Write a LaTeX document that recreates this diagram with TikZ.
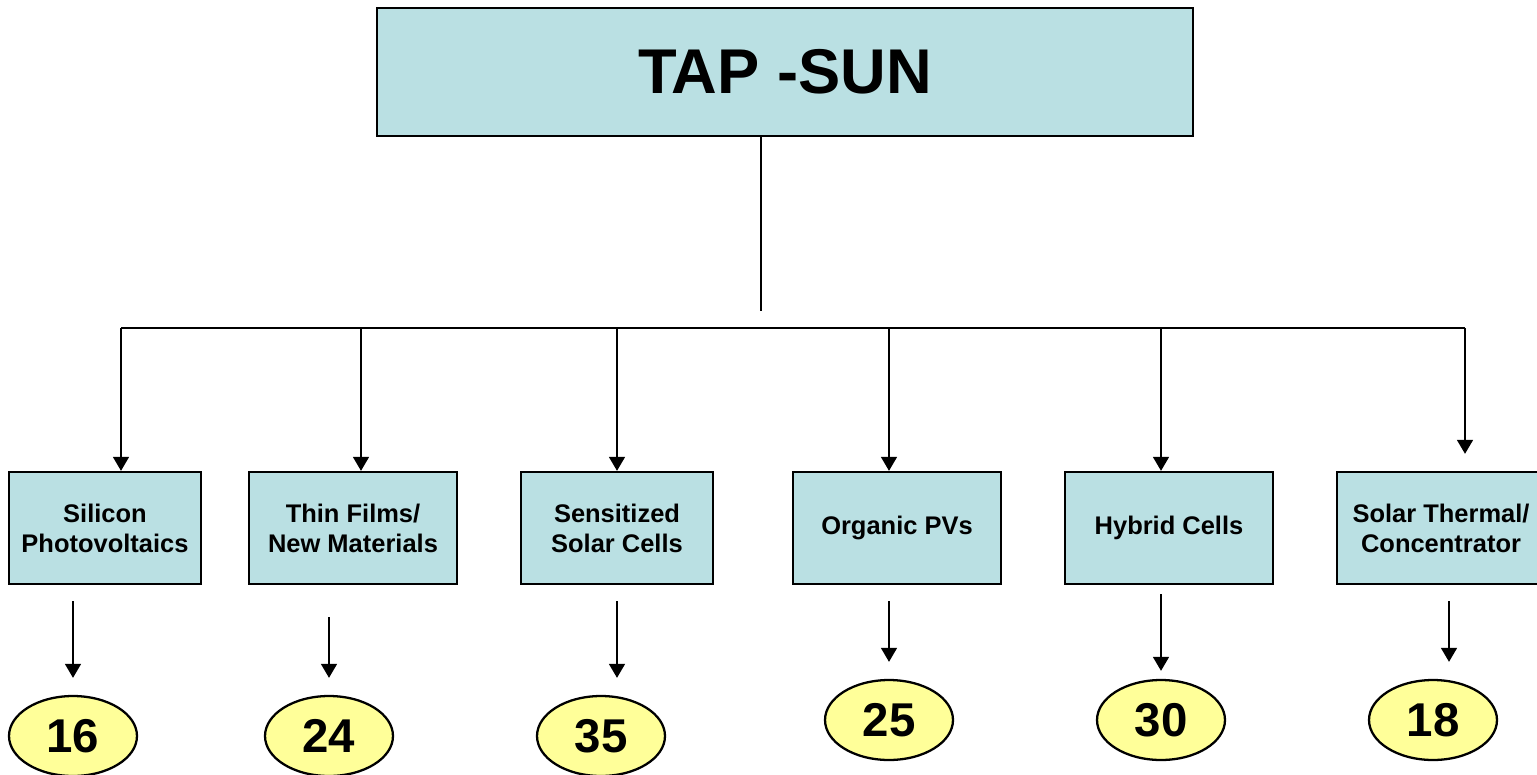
\documentclass[tikz,border=0pt]{standalone}
\usepackage{fontspec}
\setmainfont{Liberation Sans}
\usepackage{xcolor}
\usetikzlibrary{arrows.meta,positioning,shapes.geometric}

\definecolor{boxblue}{RGB}{186,224,227}
\definecolor{numyellow}{RGB}{255,255,153}

\begin{document}
\begin{tikzpicture}[
  x=0.02cm, y=-0.02cm,
  line width=1.3pt,
  head/.style={draw, fill=boxblue, minimum width=16.32cm, minimum height=2.56cm, font=\fontsize{36}{40}\selectfont\bfseries},
  area/.style={draw, fill=boxblue, minimum height=2.24cm, align=center, inner sep=0pt, font=\fontsize{14.5}{17}\selectfont\bfseries},
  count/.style={draw, ellipse, fill=numyellow, minimum width=2.56cm, minimum height=1.6cm, inner sep=0pt, font=\fontsize{27}{30}\selectfont\bfseries},
  arrow/.style={-{Triangle[width=9pt, length=8pt]}}
]
\useasboundingbox (0,0) rectangle (1537,774);

\node[head] (tap) at (785,72) {TAP -SUN};

\node[area, minimum width=3.84cm] (sil) at (105,528) {Silicon\\Photovoltaics};
\node[area, minimum width=4.16cm] (thin) at (353,528) {Thin Films/\\New Materials};
\node[area, minimum width=3.84cm] (sens) at (617,528) {Sensitized\\Solar Cells};
\node[area, minimum width=4.16cm] (org) at (897,528) {Organic PVs};
\node[area, minimum width=4.16cm] (hyb) at (1169,528) {Hybrid Cells};
\node[area, minimum width=4.16cm] (sol) at (1441,528) {Solar Thermal/\\Concentrator};

\node[count] (n16) at (73,736) {16};
\node[count] (n24) at (329,736) {24};
\node[count] (n35) at (601,736) {35};
\node[count] (n25) at (889,720) {25};
\node[count] (n30) at (1161,720) {30};
\node[count] (n18) at (1433,720) {18};

% bus from the top box
\coordinate (trunk) at (761,311);
\coordinate (b1) at (121,328);
\coordinate (b2) at (361,328);
\coordinate (b3) at (617,328);
\coordinate (b4) at (889,328);
\coordinate (b5) at (1161,328);
\coordinate (b6) at (1465,328);

\draw (tap.south -| trunk) -- (trunk);
\draw (b1) -- (b6);
\draw[arrow] (b1) -- (b1 |- sil.north);
\draw[arrow] (b2) -- (b2 |- thin.north);
\draw[arrow] (b3) -- (b3 |- sens.north);
\draw[arrow] (b4) -- (b4 |- org.north);
\draw[arrow] (b5) -- (b5 |- hyb.north);
\draw[arrow, shorten >=0.34cm] (b6) -- (b6 |- sol.north);

% boxes to counts
\draw[arrow, shorten <=0.32cm, shorten >=0.34cm] (sil.south -| n16.north) -- (n16.north);
\draw[arrow, shorten <=0.64cm, shorten >=0.34cm] (thin.south -| n24.north) -- (n24.north);
\draw[arrow, shorten <=0.32cm, shorten >=0.34cm] (sens.south) -- (sens.south |- n35.north);
\draw[arrow, shorten <=0.32cm, shorten >=0.34cm] (org.south -| n25.north) -- (n25.north);
\draw[arrow, shorten <=0.18cm, shorten >=0.16cm] (hyb.south -| n30.north) -- (n30.north);
\draw[arrow, shorten <=0.32cm, shorten >=0.34cm] ([xshift=0.16cm]sol.south) -- ([xshift=0.16cm]sol.south |- n18.north);
\end{tikzpicture}
\end{document}
